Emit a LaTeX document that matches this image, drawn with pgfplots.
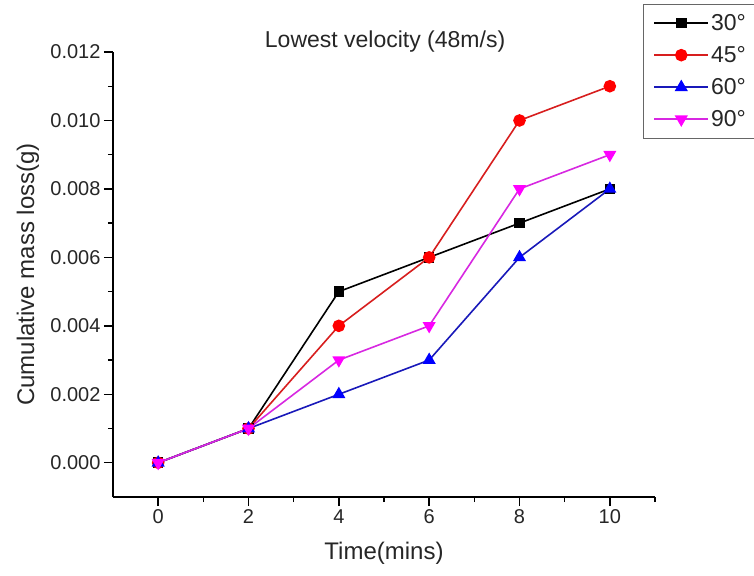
\documentclass[border=0pt]{standalone}
\usepackage{pgfplots}
\pgfplotsset{compat=1.18}
\usepackage{fontspec}
\setmainfont{Liberation Sans}
\definecolor{cred}{RGB}{255,0,0}
\definecolor{cblue}{RGB}{0,0,255}
\definecolor{cmag}{RGB}{255,0,255}
\definecolor{lred}{RGB}{215,30,30}
\definecolor{lblue}{RGB}{25,25,185}
\definecolor{lmag}{RGB}{215,40,225}
\begin{document}
\begin{tikzpicture}
\path[use as bounding box] (-113pt,-78pt) rectangle (641pt,497pt);
\begin{axis}[
  at={(0pt,0pt)}, anchor=south west,
  scale only axis, width=542pt, height=445pt,
  xmin=-1, xmax=11, ymin=-0.001, ymax=0.012,
  axis x line=bottom, axis y line=left,
  axis line style={-, line width=1.4pt, black},
  xtick={0,2,4,6,8,10}, minor xtick={1,3,5,7,9,11},
  ytick={0,0.002,0.004,0.006,0.008,0.010,0.012},
  minor ytick={0.001,0.003,0.005,0.007,0.009,0.011},
  scaled y ticks=false,
  yticklabel style={/pgf/number format/.cd, fixed, fixed zerofill, precision=3},
  /pgf/number format/assume math mode=true,
  tick align=outside, major tick length=9pt, minor tick length=5pt,
  every tick/.style={line width=1.4pt, black},
  tick label style={font=\fontsize{20}{24}\selectfont, text=black!85},
  xlabel={Time(mins)}, ylabel={Cumulative mass loss(g)},
  label style={font=\fontsize{24}{28}\selectfont, text=black!85},
  xlabel style={at={(axis description cs:0.5,-0.126)}, anchor=center},
  ylabel style={at={(axis description cs:-0.157,0.5)}, anchor=center},
  title={Lowest velocity (48m/s)},
  title style={font=\fontsize{23}{27}\selectfont, text=black!85, at={(axis description cs:0.502,1)}, anchor=center, yshift=4pt},
  legend style={at={(axis description cs:0.978,1.108)}, anchor=north west,
    draw=black!60, line width=0.8pt, font=\fontsize{23}{27}\selectfont, text=black!85,
    row sep=10.5pt, inner xsep=10pt, inner ysep=8pt},
  legend cell align=left,
  legend image code/.code={\draw[mark repeat=2, mark phase=2, #1] plot coordinates {(0pt,0pt) (27pt,0pt) (54pt,0pt)};},
  clip=false,
]
\addplot[black, line width=1.6pt, mark=square*, mark size=4.5pt, mark options={solid}]
  coordinates {(0,0) (2,0.001) (4,0.005) (6,0.006) (8,0.007) (10,0.008)};
\addplot[lred, line width=1.6pt, mark=*, mark size=5.5pt, mark options={solid, draw=cred, fill=cred}]
  coordinates {(0,0) (2,0.001) (4,0.004) (6,0.006) (8,0.010) (10,0.011)};
\addplot[lblue, line width=1.6pt, mark=triangle*, mark size=6pt, mark options={solid, draw=cblue, fill=cblue}]
  coordinates {(0,0) (2,0.001) (4,0.002) (6,0.003) (8,0.006) (10,0.008)};
\addplot[lmag, line width=1.6pt, mark=triangle*, mark size=6pt, mark options={solid, rotate=180, draw=cmag, fill=cmag}]
  coordinates {(0,0) (2,0.001) (4,0.003) (6,0.004) (8,0.008) (10,0.009)};
\legend{30°,45°,60°,90°}
\end{axis}
\end{tikzpicture}
\end{document}
